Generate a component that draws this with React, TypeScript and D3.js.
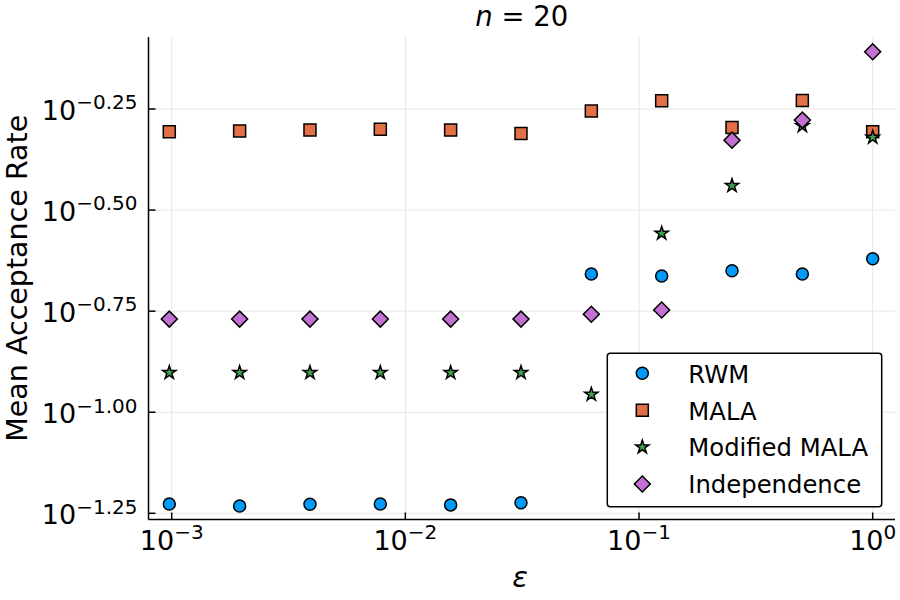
// App.tsx
import * as d3 from "d3";
import { useEffect, useRef } from "react";

const epsilons = [
  0.0009765625, 0.001953125, 0.00390625, 0.0078125, 0.015625, 0.03125, 0.0625, 0.125, 0.25, 0.5, 1,
];
const rwm = [0.0593, 0.0586, 0.0592, 0.0593, 0.059, 0.0597, 0.2197, 0.2172, 0.2239, 0.2197, 0.2397];
const mala = [0.494, 0.496, 0.499, 0.501, 0.499, 0.489, 0.556, 0.589, 0.506, 0.59, 0.494];
const modifiedMala = [0.1253, 0.1253, 0.1253, 0.1253, 0.1253, 0.1253, 0.1107, 0.277, 0.3634, 0.511, 0.4786];
const independence = [0.17, 0.17, 0.17, 0.17, 0.17, 0.17, 0.1747, 0.179, 0.471, 0.528, 0.779];

const xTicks = [0.001, 0.01, 0.1, 1];
const xTickExp = ["−3", "−2", "−1", "0"];
const yTicks = [-1.25, -1.0, -0.75, -0.5, -0.25];
const yTickExp = ["−1.25", "−1.00", "−0.75", "−0.50", "−0.25"];

const seriesNames = ["RWM", "MALA", "Modified MALA", "Independence"];
const seriesColors = ["#009afa", "#e36f47", "#3ea44e", "#c271d2"];

const FONT = "DejaVu Sans";

export default function App() {
  const ref = useRef<SVGSVGElement | null>(null);

  useEffect(() => {
    const svg = d3.select(ref.current);
    svg.selectAll("*").remove();

    const left = 148.5;
    const right = 895;
    const top = 37;
    const bottom = 519.5;

    const x = d3
      .scaleLog()
      .domain([Math.pow(10, -3.0993), Math.pow(10, 0.0955)])
      .range([left, right]);
    const y = d3
      .scaleLog()
      .domain([Math.pow(10, -1.2653), Math.pow(10, -0.0719)])
      .range([bottom, top]);

    // grid
    const grid = svg.append("g").attr("stroke", "#e6e6e6").attr("stroke-width", 1);
    xTicks.forEach((t) => {
      grid.append("line").attr("x1", x(t)).attr("x2", x(t)).attr("y1", top).attr("y2", bottom);
    });
    yTicks.forEach((t) => {
      const yy = y(Math.pow(10, t));
      grid.append("line").attr("x1", left).attr("x2", right).attr("y1", yy).attr("y2", yy);
    });

    // axes
    const axes = svg.append("g").attr("stroke", "black").attr("stroke-width", 1.5);
    axes.append("line").attr("x1", left).attr("x2", left).attr("y1", top).attr("y2", bottom);
    axes.append("line").attr("x1", left).attr("x2", right).attr("y1", bottom).attr("y2", bottom);
    xTicks.forEach((t) => {
      axes.append("line").attr("x1", x(t)).attr("x2", x(t)).attr("y1", bottom).attr("y2", bottom - 7);
    });
    yTicks.forEach((t) => {
      const yy = y(Math.pow(10, t));
      axes.append("line").attr("x1", left).attr("x2", left + 7).attr("y1", yy).attr("y2", yy);
    });

    // tick labels
    xTicks.forEach((t, i) => {
      const txt = svg
        .append("text")
        .attr("x", x(t))
        .attr("y", bottom + 30)
        .attr("text-anchor", "middle")
        .attr("font-family", FONT)
        .attr("font-size", 27);
      txt.append("tspan").text("10");
      txt.append("tspan").attr("dy", -10.5).attr("font-size", 20).text(xTickExp[i]);
    });
    yTicks.forEach((t, i) => {
      const txt = svg
        .append("text")
        .attr("x", 137.5)
        .attr("y", y(Math.pow(10, t)) + 11)
        .attr("text-anchor", "end")
        .attr("font-family", FONT)
        .attr("font-size", 27);
      txt.append("tspan").text("10");
      txt.append("tspan").attr("dy", -10.7).attr("font-size", 20).text(yTickExp[i]);
    });

    // title and guides
    const title = svg
      .append("text")
      .attr("x", (left + right) / 2)
      .attr("y", 26)
      .attr("text-anchor", "middle")
      .attr("font-family", FONT)
      .attr("font-size", 27.5);
    title.append("tspan").attr("font-style", "italic").text("n");
    title.append("tspan").text(" = 20");

    svg
      .append("text")
      .attr("x", 520)
      .attr("y", 587)
      .attr("text-anchor", "middle")
      .attr("font-family", FONT)
      .attr("font-style", "italic")
      .attr("font-size", 29)
      .text("ε");

    svg
      .append("text")
      .attr("transform", `translate(26.5,${(top + bottom) / 2}) rotate(-90)`)
      .attr("text-anchor", "middle")
      .attr("font-family", FONT)
      .attr("font-size", 28.5)
      .text("Mean Acceptance Rate");

    // markers
    const symbols = [
      d3.symbol().type(d3.symbolCircle).size(113)(),
      d3.symbol().type(d3.symbolSquare).size(144)(),
      d3.symbol().type(d3.symbolStar).size(55)(),
      d3.symbol().type(d3.symbolSquare).size(128)(),
    ];
    const rotations = [0, 0, 0, 45];
    const allSeries = [rwm, mala, modifiedMala, independence];

    allSeries.forEach((vals, si) => {
      const g = svg.append("g");
      vals.forEach((v, i) => {
        g.append("path")
          .attr("d", symbols[si])
          .attr("transform", `translate(${x(epsilons[i])},${y(v)}) rotate(${rotations[si]})`)
          .attr("fill", seriesColors[si])
          .attr("stroke", "black")
          .attr("stroke-width", 1.5);
      });
    });

    // legend
    const lg = svg.append("g");
    lg.append("rect")
      .attr("x", 607.3)
      .attr("y", 353.3)
      .attr("width", 274.4)
      .attr("height", 153.4)
      .attr("rx", 3)
      .attr("fill", "white")
      .attr("stroke", "black")
      .attr("stroke-width", 1.5);
    seriesNames.forEach((name, i) => {
      const cy = 373.3 + i * 36.9;
      lg.append("path")
        .attr("d", symbols[i])
        .attr("transform", `translate(642.3,${cy}) rotate(${rotations[i]})`)
        .attr("fill", seriesColors[i])
        .attr("stroke", "black")
        .attr("stroke-width", 1.5);
      lg.append("text")
        .attr("x", 688.3)
        .attr("y", cy + 9.3)
        .attr("font-family", FONT)
        .attr("font-size", 24.3)
        .text(name);
    });
  }, []);

  return (
    <svg
      ref={ref}
      width={900}
      height={600}
      style={{ position: "absolute", left: 0, top: 0, background: "white" }}
    ></svg>
  );
}
